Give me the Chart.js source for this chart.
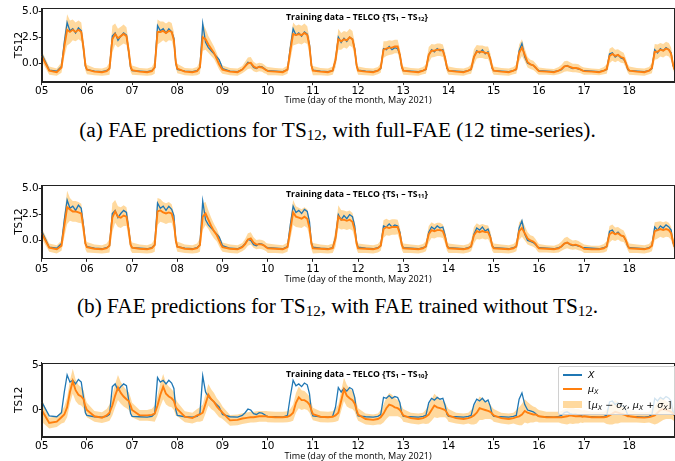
<!DOCTYPE html>
<html><head><meta charset="utf-8">
<script src="https://cdn.jsdelivr.net/npm/chart.js@4/dist/chart.umd.min.js"></script>
<style>
html,body{margin:0;padding:0;background:#fff;}
body{width:675px;height:461px;overflow:hidden;position:relative;}
.pane{position:absolute;left:0;}
canvas{display:block;}
.ptitle{position:absolute;font-family:"Open Sans";font-weight:bold;font-size:8.7px;white-space:nowrap;transform:translate(-50%,-50%);color:#000;z-index:3;}
.ptitle sub{font-size:6px;vertical-align:-1px;line-height:0;}
.cap{position:absolute;left:0;width:675px;text-align:center;font-family:"Liberation Serif";font-size:21.3px;line-height:24px;color:#000;}
.cap sub{font-size:15px;vertical-align:-3px;line-height:0;}
.legend{position:absolute;left:558px;top:366px;width:122px;height:49px;background:rgba(255,255,255,0.8);border:1px solid #d0d0d0;border-radius:2px;z-index:4;box-sizing:border-box;}
.lg-line{position:absolute;left:4px;width:19px;height:2px;}
.lg-patch{position:absolute;left:4px;width:19px;height:7px;background:rgb(255,217,158);}
.lg-text{position:absolute;left:29px;font-family:"DejaVu Sans";font-size:9.5px;line-height:12px;white-space:nowrap;color:#000;}
.lg-text sub{font-size:6.5px;vertical-align:-2px;line-height:0;}
</style>
</head><body>

<div class="pane" style="top:0px"><canvas id="c1" width="675" height="108"></canvas></div>
<div class="ptitle" style="left:357px;top:16.7px">Training data – TELCO {TS<sub>1</sub> – TS<sub>12</sub>}</div>
<div class="cap" style="top:118px">(a) FAE predictions for TS<sub>12</sub>, with full-FAE (12 time-series).</div>

<div class="pane" style="top:176px"><canvas id="c2" width="675" height="108"></canvas></div>
<div class="ptitle" style="left:357px;top:194px">Training data – TELCO {TS<sub>1</sub> – TS<sub>11</sub>}</div>
<div class="cap" style="top:294px">(b) FAE predictions for TS<sub>12</sub>, with FAE trained without TS<sub>12</sub>.</div>

<div class="pane" style="top:354px"><canvas id="c3" width="675" height="107"></canvas></div>
<div class="ptitle" style="left:357px;top:374px">Training data – TELCO {TS<sub>1</sub> – TS<sub>10</sub>}</div>
<div class="legend">
  <div class="lg-line" style="top:7px;background-color:#1f77b4"></div>
  <div class="lg-text" style="top:2px"><i>X</i></div>
  <div class="lg-line" style="top:21px;background-color:#ff7f0e"></div>
  <div class="lg-text" style="top:16px"><i>μ</i><sub><i>X</i></sub></div>
  <div class="lg-patch" style="top:34px"></div>
  <div class="lg-text" style="top:31.5px">[<i>μ</i><sub><i>X</i></sub> − <i>σ</i><sub><i>X</i></sub>, <i>μ</i><sub><i>X</i></sub> + <i>σ</i><sub><i>X</i></sub>]</div>
</div>

<script>
// ---- categories ----
const DAYS = [5,6,7,8,9,10,11,12,13,14,15,16,17,18];
const HOURS = [0,4,8,10.5,12,13.5,15,16.5,18,19.5,21,22.2,23.2];
const END_DAY = 19;
const TICK_DAYS = [5,6,7,8,9,10,11,12,13,14,15,16,17,18];
const TICK_LABELS = ['05','06','07','08','09','10','11','12','13','14','15','16','17','18'];
const Y_TICKS_AB = [0,2.5,5];
const Y_LABELS_AB = ['0.0','2.5','5.0'];
const Y_TICKS_C = [0,5];
const Y_LABELS_C = ['0','5'];

// ---- observed series X (TS12) ----
const X_OBS = [
 0.9,-0.65,-0.75,-0.3,2.0,3.9,3.1,3.3,2.9,3.4,3.1,1.4,-0.3,
 -0.6,-0.75,-0.8,-0.7,-0.5,2.6,2.9,2.2,2.6,2.9,2.7,1.1,-0.4,
 -0.7,-0.75,-0.8,-0.7,-0.4,3.6,3.1,3.3,2.9,3.3,3.0,2.4,0.0,
 -0.6,-0.75,-0.8,-0.7,-0.4,3.8,2.0,1.5,1.2,0.9,0.6,0.35,-0.1,
 -0.5,-0.75,-0.8,-0.6,-0.3,0.1,0.0,-0.4,-0.5,-0.3,-0.35,-0.5,-0.65,
 -0.7,-0.75,-0.8,-0.6,1.5,3.3,2.7,2.9,2.6,3.0,2.8,1.8,-0.2,
 -0.65,-0.75,-0.8,-0.7,0.3,2.5,2.0,2.4,2.1,2.5,2.3,1.4,-0.2,
 -0.65,-0.75,-0.8,-0.7,-0.5,1.4,1.3,1.6,1.3,1.5,1.4,0.8,-0.4,
 -0.7,-0.75,-0.8,-0.7,-0.6,0.8,1.3,1.1,1.4,1.2,1.3,0.5,-0.5,
 -0.7,-0.75,-0.8,-0.7,-0.6,0.6,1.2,1.0,1.3,0.9,1.1,0.4,-0.5,
 -0.7,-0.75,-0.8,-0.7,-0.6,1.2,1.9,0.6,0.0,-0.1,-0.2,-0.4,-0.6,
 -0.7,-0.75,-0.8,-0.7,-0.6,-0.3,-0.2,-0.4,-0.5,-0.45,-0.55,-0.6,-0.7,
 -0.7,-0.75,-0.8,-0.7,-0.6,0.9,1.0,0.6,0.8,0.5,0.4,0.0,-0.6,
 -0.7,-0.75,-0.8,-0.7,-0.5,1.3,1.0,1.4,1.2,1.5,1.3,1.0,-0.2,
 -0.6
];

// ---- (a) full-FAE: mean and std ----
const MU_A = [
 0.7,-0.7,-0.85,-0.4,1.6,3.2,3.0,3.2,3.0,3.2,3.0,1.5,-0.2,
 -0.6,-0.8,-0.85,-0.75,-0.5,2.3,2.8,2.4,2.6,2.8,2.6,1.2,-0.3,
 -0.65,-0.8,-0.85,-0.75,-0.4,3.0,3.0,3.1,2.9,3.1,3.0,2.2,0.1,
 -0.5,-0.8,-0.85,-0.75,-0.4,2.5,2.3,1.8,1.4,1.0,0.4,-0.1,-0.4,
 -0.6,-0.8,-0.85,-0.6,-0.3,0.0,0.05,-0.3,-0.45,-0.35,-0.4,-0.55,-0.65,
 -0.75,-0.8,-0.85,-0.6,1.2,2.8,2.7,2.8,2.7,2.9,2.7,1.6,-0.2,
 -0.7,-0.8,-0.85,-0.7,0.3,2.3,2.1,2.3,2.2,2.5,2.3,1.3,-0.2,
 -0.7,-0.8,-0.85,-0.7,-0.45,1.3,1.4,1.5,1.5,1.6,1.6,0.8,-0.3,
 -0.7,-0.8,-0.85,-0.7,-0.55,0.8,1.2,1.2,1.3,1.3,1.2,0.5,-0.4,
 -0.7,-0.8,-0.85,-0.7,-0.55,0.6,1.1,1.1,1.1,1.0,1.0,0.4,-0.4,
 -0.7,-0.8,-0.85,-0.7,-0.55,1.0,1.5,0.8,0.1,-0.1,-0.2,-0.4,-0.6,
 -0.75,-0.8,-0.85,-0.7,-0.55,-0.3,-0.25,-0.35,-0.45,-0.45,-0.5,-0.6,-0.7,
 -0.75,-0.8,-0.85,-0.7,-0.55,0.7,0.9,0.7,0.8,0.6,0.5,0.0,-0.5,
 -0.7,-0.8,-0.85,-0.7,-0.45,1.1,1.1,1.3,1.2,1.4,1.3,0.9,-0.1,
 -0.6
];
const SD_A = [
 0.5,0.4,0.35,0.5,1.0,1.5,1.1,1.0,0.9,0.9,0.9,0.8,0.5,
 0.45,0.35,0.35,0.4,0.6,1.3,1.0,0.9,0.9,0.9,0.85,0.8,0.5,
 0.45,0.35,0.35,0.4,0.6,1.2,1.0,0.9,0.9,0.9,0.85,0.8,0.5,
 0.45,0.35,0.35,0.4,0.6,1.3,1.0,0.8,0.7,0.6,0.55,0.5,0.45,
 0.4,0.35,0.35,0.35,0.45,0.55,0.55,0.45,0.4,0.4,0.4,0.4,0.35,
 0.4,0.35,0.35,0.4,0.9,1.1,0.9,0.9,0.9,0.9,0.85,0.8,0.5,
 0.45,0.35,0.35,0.4,0.7,1.0,0.8,0.8,0.8,0.8,0.8,0.7,0.5,
 0.4,0.35,0.35,0.35,0.45,0.8,0.7,0.7,0.65,0.65,0.65,0.6,0.45,
 0.4,0.35,0.35,0.35,0.45,0.75,0.65,0.6,0.6,0.6,0.6,0.55,0.45,
 0.4,0.35,0.35,0.35,0.45,0.75,0.65,0.6,0.6,0.6,0.6,0.55,0.45,
 0.4,0.35,0.35,0.35,0.45,0.8,0.8,0.6,0.5,0.45,0.45,0.4,0.4,
 0.35,0.3,0.3,0.35,0.4,0.5,0.5,0.45,0.4,0.4,0.4,0.35,0.35,
 0.35,0.3,0.3,0.35,0.45,0.7,0.65,0.6,0.55,0.55,0.5,0.45,0.4,
 0.4,0.35,0.35,0.35,0.5,0.75,0.7,0.65,0.65,0.65,0.65,0.6,0.45,
 0.4
];

// ---- (b) FAE without TS12: mean and std ----
const MU_B = [
 0.7,-0.7,-0.85,-0.5,1.4,3.2,3.0,2.8,2.8,2.7,2.6,1.2,-0.3,
 -0.65,-0.8,-0.85,-0.75,-0.5,2.2,2.8,2.3,2.2,2.4,2.3,1.0,-0.4,
 -0.7,-0.8,-0.85,-0.75,-0.45,2.8,2.9,2.7,2.6,2.7,2.6,1.8,0.0,
 -0.6,-0.8,-0.85,-0.75,-0.45,2.3,2.6,2.0,1.4,0.9,0.5,0.0,-0.4,
 -0.65,-0.8,-0.85,-0.65,-0.35,0.1,0.2,-0.2,-0.4,-0.35,-0.4,-0.5,-0.65,
 -0.75,-0.8,-0.85,-0.65,1.0,2.7,2.3,2.2,2.1,2.3,2.1,1.2,-0.3,
 -0.75,-0.8,-0.85,-0.75,0.2,2.3,2.0,2.0,1.9,2.0,1.8,1.0,-0.3,
 -0.75,-0.8,-0.85,-0.75,-0.5,1.1,1.3,1.2,1.3,1.3,1.3,0.6,-0.4,
 -0.75,-0.8,-0.85,-0.75,-0.55,0.6,1.0,0.9,1.0,1.0,0.9,0.3,-0.5,
 -0.75,-0.8,-0.85,-0.75,-0.55,0.5,0.9,0.8,0.9,0.8,0.8,0.3,-0.5,
 -0.75,-0.8,-0.85,-0.75,-0.55,0.9,1.2,0.7,0.2,0.0,-0.1,-0.3,-0.6,
 -0.75,-0.8,-0.85,-0.75,-0.55,-0.3,-0.2,-0.35,-0.45,-0.4,-0.5,-0.6,-0.7,
 -0.8,-0.85,-0.85,-0.75,-0.55,0.6,0.8,0.6,0.7,0.5,0.4,0.0,-0.5,
 -0.75,-0.8,-0.85,-0.75,-0.5,0.9,1.0,1.1,1.0,1.1,1.0,0.7,-0.1,
 -0.6
];
const SD_B = [
 0.5,0.4,0.4,0.5,1.1,1.6,1.1,1.0,1.0,1.0,0.95,0.85,0.55,
 0.5,0.4,0.4,0.45,0.65,1.4,1.1,1.0,1.0,1.0,0.9,0.85,0.55,
 0.5,0.4,0.4,0.45,0.65,1.3,1.1,1.0,1.0,1.0,0.9,0.85,0.55,
 0.5,0.4,0.4,0.45,0.65,1.3,1.1,0.9,0.8,0.7,0.6,0.55,0.5,
 0.45,0.4,0.4,0.4,0.5,0.6,0.6,0.5,0.45,0.45,0.45,0.45,0.4,
 0.45,0.4,0.4,0.45,0.9,1.2,1.0,0.95,0.9,0.9,0.9,0.8,0.55,
 0.5,0.4,0.4,0.45,0.8,1.1,0.95,0.9,0.9,0.9,0.85,0.75,0.55,
 0.45,0.4,0.4,0.4,0.5,0.85,0.8,0.75,0.75,0.75,0.7,0.65,0.5,
 0.45,0.4,0.4,0.4,0.5,0.8,0.75,0.7,0.7,0.7,0.65,0.6,0.5,
 0.45,0.4,0.4,0.4,0.5,0.8,0.75,0.7,0.7,0.7,0.65,0.6,0.5,
 0.45,0.4,0.4,0.4,0.5,0.85,0.85,0.7,0.6,0.5,0.5,0.45,0.45,
 0.4,0.35,0.35,0.4,0.45,0.55,0.55,0.5,0.45,0.45,0.45,0.4,0.4,
 0.4,0.35,0.35,0.4,0.5,0.8,0.75,0.65,0.6,0.6,0.55,0.5,0.45,
 0.45,0.4,0.4,0.4,0.55,0.85,0.8,0.75,0.75,0.75,0.7,0.65,0.5,
 0.45
];

// ---- (c) FAE without TS11, TS12: mean and std ----
const MU_C = [
 0.0,-1.45,-1.3,-0.8,-0.5,0.3,2.0,3.2,2.2,1.7,1.5,1.2,0.4,
 0.0,-0.7,-0.85,-0.6,-0.3,0.5,1.6,2.5,1.9,1.5,1.2,1.0,0.5,
 0.0,-0.6,-0.6,-0.55,-0.4,0.5,1.7,2.6,1.8,1.5,1.3,1.0,0.3,
 0.1,-0.75,-0.9,-0.6,-0.5,-0.3,0.7,1.7,1.2,0.9,0.4,0.1,-0.1,
 -0.3,-1.15,-1.1,-0.95,-0.9,-0.85,-0.8,-0.8,-0.75,-0.7,-0.7,-0.7,-0.7,
 -0.75,-0.8,-0.8,-0.75,-0.6,-0.3,0.8,1.4,1.1,1.1,0.9,0.6,0.0,
 -0.45,-0.75,-0.8,-0.75,-0.6,-0.3,1.0,2.3,1.6,1.3,1.1,0.7,0.0,
 -0.5,-1.0,-1.1,-1.0,-0.8,-0.4,0.2,0.6,0.5,0.3,0.2,0.0,-0.3,
 -0.6,-0.9,-1.0,-0.9,-0.75,-0.5,0.0,0.5,0.3,0.2,0.1,0.0,-0.3,
 -0.6,-0.9,-1.0,-0.9,-0.8,-0.6,-0.3,0.2,0.1,0.0,-0.1,-0.2,-0.4,
 -0.6,-0.9,-1.0,-0.9,-0.8,-0.7,-0.5,-0.1,-0.3,-0.4,-0.5,-0.5,-0.6,
 -0.7,-0.8,-0.8,-0.8,-0.8,-0.75,-0.7,-0.6,-0.65,-0.7,-0.7,-0.7,-0.75,
 -0.7,-0.8,-0.8,-0.8,-0.75,-0.6,-0.4,-0.2,-0.3,-0.4,-0.5,-0.6,-0.7,
 -0.7,-0.8,-0.85,-0.8,-0.7,-0.6,-0.3,0.0,0.1,0.0,-0.1,-0.2,-0.4,
 -0.6
];
const SD_C = [
 1.3,0.6,0.6,0.7,0.9,1.1,1.3,1.4,1.2,1.1,1.0,1.0,0.9,
 0.8,0.6,0.6,0.7,0.9,1.1,1.3,1.4,1.2,1.1,1.0,1.0,0.9,
 0.8,0.6,0.6,0.7,0.9,1.1,1.3,1.4,1.2,1.1,1.0,1.0,0.9,
 0.8,0.6,0.6,0.7,0.8,0.9,1.1,1.2,1.1,1.0,0.9,0.9,0.8,
 0.7,0.6,0.6,0.6,0.6,0.6,0.6,0.6,0.6,0.6,0.6,0.6,0.6,
 0.6,0.6,0.6,0.6,0.7,0.9,1.1,1.2,1.1,1.0,0.9,0.9,0.8,
 0.7,0.6,0.6,0.6,0.7,0.9,1.1,1.3,1.2,1.1,1.0,0.9,0.8,
 0.7,0.6,0.6,0.6,0.8,1.0,1.2,1.3,1.2,1.0,0.9,0.8,0.7,
 0.7,0.6,0.6,0.6,0.8,1.0,1.2,1.3,1.2,1.0,0.9,0.8,0.7,
 0.7,0.6,0.6,0.6,0.8,1.0,1.2,1.3,1.2,1.0,0.9,0.8,0.7,
 0.7,0.6,0.6,0.6,0.8,1.0,1.2,1.3,1.2,1.0,0.9,0.8,0.7,
 0.7,0.6,0.6,0.6,0.7,0.8,0.9,0.9,0.9,0.8,0.8,0.7,0.7,
 0.7,0.6,0.6,0.6,0.8,1.0,1.2,1.3,1.2,1.0,0.9,0.8,0.7,
 0.7,0.6,0.6,0.6,0.8,1.0,1.2,1.3,1.2,1.0,0.9,0.8,0.7,
 0.7
];

// ---- build time table from categories ----
const TIME = [];
DAYS.forEach(d => HOURS.forEach(h => TIME.push(d + h / 24)));
TIME.push(END_DAY);

const BLUE = '#1f77b4', ORANGE = '#ff7f0e', BAND = 'rgba(255,170,40,0.45)';
const pts = arr => arr.map((v, i) => ({x: TIME[i], y: v}));

const framePlugin = {
  id: 'frame',
  afterDatasetsDraw(chart) {
    const {ctx, chartArea: a} = chart;
    ctx.save();
    ctx.strokeStyle = '#222';
    ctx.lineWidth = 1;
    const l = Math.round(a.left) + 0.5, t = Math.round(a.top) + 0.5;
    const r = Math.round(a.right) - 0.5, b = Math.round(a.bottom) + 0.5;
    ctx.strokeRect(l, t, r - l, b - t);
    ctx.restore();
  }
};

function makeChart(id, p) {
  const lo = p.mu.map((m, i) => m - p.sd[i]);
  const hi = p.mu.map((m, i) => m + p.sd[i]);
  return new Chart(document.getElementById(id), {
    type: 'line',
    data: {
      datasets: [
        {data: pts(lo), borderWidth: 0, pointRadius: 0, fill: false, order: 4},
        {data: pts(hi), borderWidth: 0, pointRadius: 0, fill: '-1', backgroundColor: BAND, order: 3},
        {data: pts(X_OBS), borderColor: BLUE, borderWidth: 1.3, pointRadius: 0, fill: false, order: 2},
        {data: pts(p.mu), borderColor: ORANGE, borderWidth: 1.9, pointRadius: 0, fill: false, order: 1}
      ]
    },
    options: {
      responsive: false,
      animation: false,
      events: [],
      layout: {padding: {top: p.top, right: 0.5, left: 0, bottom: 0}},
      elements: {line: {tension: 0}},
      plugins: {legend: {display: false}, tooltip: {enabled: false}},
      scales: {
        x: {
          type: 'linear', min: 5, max: 19,
          afterBuildTicks: s => { s.ticks = TICK_DAYS.map(v => ({value: v})); },
          afterFit: s => { s.height = p.axisH; },
          ticks: {
            callback: (v, i) => TICK_LABELS[i],
            autoSkip: false, maxRotation: 0,
            font: {family: 'DejaVu Sans', size: 10.5}, color: '#000', padding: p.tickPad
          },
          grid: {display: true, drawOnChartArea: false, drawTicks: true, tickLength: 3.5, color: '#222'},
          border: {display: true, color: '#222', width: 1},
          title: {
            display: true, text: 'Time (day of the month, May 2021)',
            font: {family: 'Open Sans', size: 9.1}, color: '#000',
            padding: {top: 0, bottom: p.titlePad}
          }
        },
        y: {
          min: p.ymin, max: p.ymax,
          afterBuildTicks: s => { s.ticks = p.yTicks.map(v => ({value: v})); },
          afterFit: s => { s.width = 41.7; },
          ticks: {
            callback: (v, i) => p.yLabels[i],
            font: {family: 'DejaVu Sans', size: 10.5}, color: '#000', padding: 0
          },
          grid: {display: true, drawOnChartArea: false, drawTicks: true, tickLength: 3, color: '#222'},
          border: {display: true, color: '#222', width: 1},
          title: {
            display: true, text: 'TS12',
            font: {family: 'DejaVu Sans', size: 10.5}, color: '#000',
            padding: {top: 12.5, bottom: 0}
          }
        }
      }
    },
    plugins: [framePlugin]
  });
}

makeChart('c1', {mu: MU_A, sd: SD_A, top: 8.3, axisH: 26.3, tickPad: 0, titlePad: 1.9,
  ymin: -1.76, ymax: 5.26, yTicks: Y_TICKS_AB, yLabels: Y_LABELS_AB});
makeChart('c2', {mu: MU_B, sd: SD_B, top: 9, axisH: 25.7, tickPad: 1.5, titlePad: -0.7,
  ymin: -1.72, ymax: 5.35, yTicks: Y_TICKS_AB, yLabels: Y_LABELS_AB});
makeChart('c3', {mu: MU_C, sd: SD_C, top: 8.7, axisH: 24.3, tickPad: 0, titlePad: -1.1,
  ymin: -2.97, ymax: 5.26, yTicks: Y_TICKS_C, yLabels: Y_LABELS_C});
</script>
</body></html>
